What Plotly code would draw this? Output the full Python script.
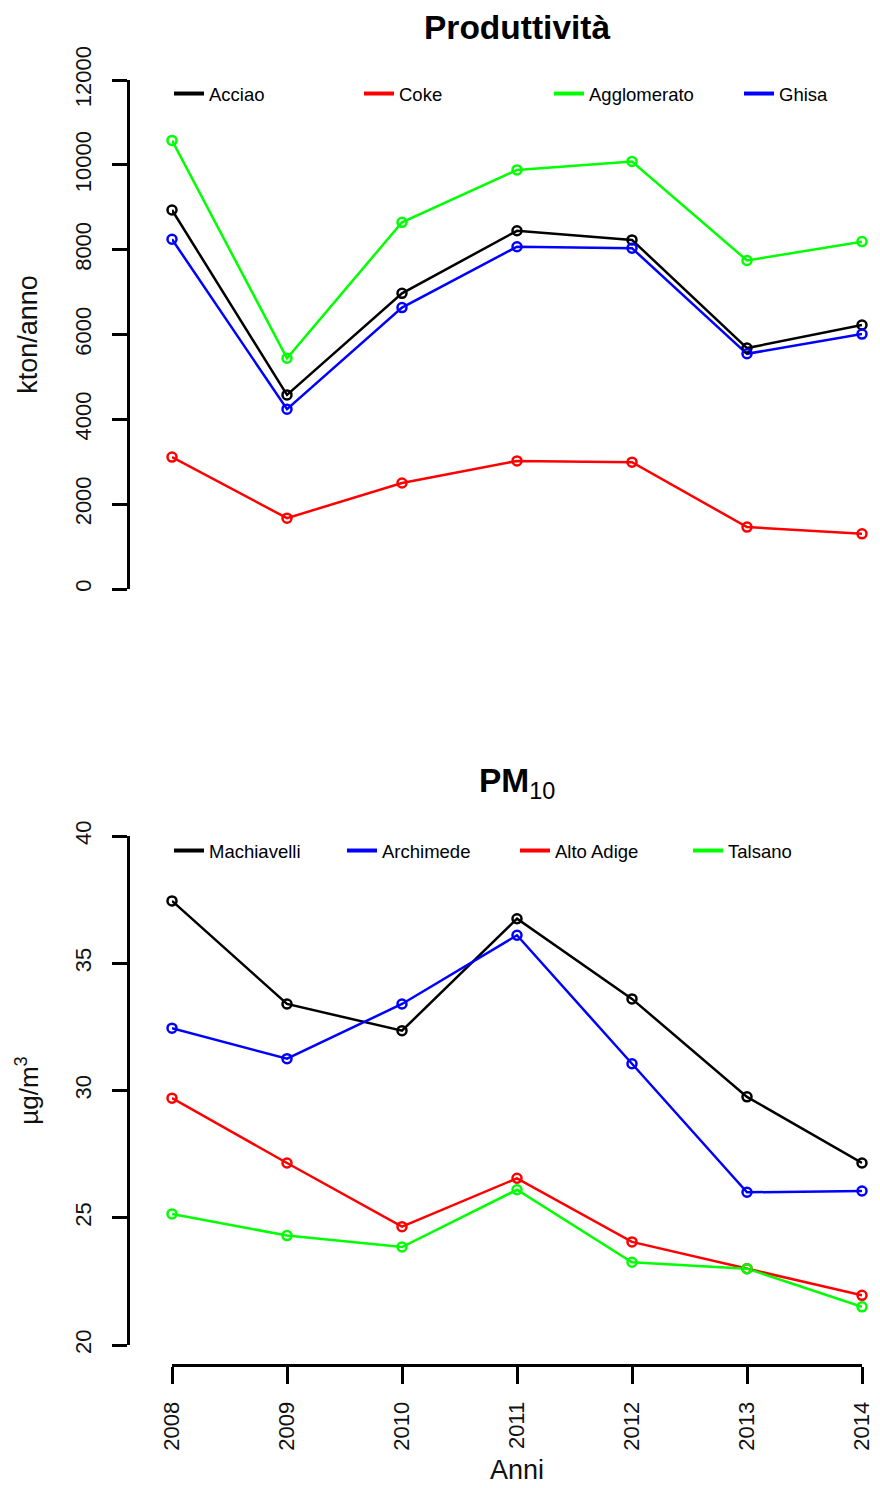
import plotly.graph_objects as go

# ---------------- data ----------------
anni = [2008, 2009, 2010, 2011, 2012, 2013, 2014]

prod_names = ["Acciao", "Coke", "Agglomerato", "Ghisa"]
acciao = [8935, 4575, 6970, 8445, 8230, 5680, 6225]
coke = [3110, 1670, 2500, 3020, 2990, 1460, 1300]
agglomerato = [10575, 5440, 8645, 9880, 10080, 7745, 8190]
ghisa = [8245, 4240, 6635, 8070, 8035, 5545, 6010]
prod_values = [acciao, coke, agglomerato, ghisa]
prod_colors = ["#000000", "#FF0000", "#00FF00", "#0000FF"]

pm_names = ["Machiavelli", "Archimede", "Alto Adige", "Talsano"]
machiavelli = [37.45, 33.4, 32.35, 36.75, 33.6, 29.75, 27.15]
archimede = [32.45, 31.25, 33.4, 36.1, 31.05, 26.0, 26.05]
alto_adige = [29.7, 27.15, 24.65, 26.55, 24.05, 23.0, 21.95]
talsano = [25.15, 24.3, 23.85, 26.1, 23.25, 23.0, 21.5]
pm_values = [machiavelli, archimede, alto_adige, talsano]
pm_colors = ["#000000", "#0000FF", "#FF0000", "#00FF00"]

prod_ticks = [0, 2000, 4000, 6000, 8000, 10000, 12000]
pm_ticks = [20, 25, 30, 35, 40]

# ---------------- layout geometry (pixels) ----------------
W, H = 880, 1488
FONT = "Liberation Sans, Arial, sans-serif"

def px_x(p):
    return p / W

def px_y(p):
    return 1 - p / H

fig = go.Figure()

def add_panel(names, values, colors, xa, ya, legend):
    # lines
    for n, v, c in zip(names, values, colors):
        fig.add_trace(go.Scatter(x=anni, y=v, mode="lines", name=n,
                                 line=dict(color=c, width=2.5),
                                 xaxis=xa, yaxis=ya, showlegend=False,
                                 cliponaxis=False, hoverinfo="skip"))
    # open circles
    for n, v, c in zip(names, values, colors):
        fig.add_trace(go.Scatter(x=anni, y=v, mode="markers", name=n,
                                 marker=dict(symbol="circle-open", size=9, color=c,
                                             line=dict(width=2.5, color=c)),
                                 xaxis=xa, yaxis=ya, showlegend=False,
                                 cliponaxis=False))
    # legend entries
    for n, c in zip(names, colors):
        fig.add_trace(go.Scatter(x=[None], y=[None], mode="lines", name=n,
                                 line=dict(color=c, width=4),
                                 xaxis=xa, yaxis=ya, showlegend=True,
                                 legend=legend))

add_panel(prod_names, prod_values, prod_colors, "x", "y", "legend")
add_panel(pm_names, pm_values, pm_colors, "x2", "y2", "legend2")

xdom = [px_x(172), px_x(862)]
axis_common = dict(showgrid=False, zeroline=False, showline=True, linecolor="black",
                   linewidth=3, ticks="outside", tickwidth=3, tickcolor="black",
                   tickangle=-90, tickformat="d",
                   tickfont=dict(family=FONT, size=22, color="#111111"))

fig.update_layout(
    width=W, height=H,
    margin=dict(l=0, r=0, t=0, b=0, autoexpand=False),
    paper_bgcolor="white", plot_bgcolor="white",
    font=dict(family=FONT, color="black"),
    xaxis=dict(domain=xdom, range=[2008, 2014], visible=False, anchor="y"),
    yaxis=dict(domain=[px_y(589), px_y(80)], range=[0, 12000], anchor="free",
               position=px_x(128), tickvals=prod_ticks, ticklen=15, ticklabelstandoff=12,
               title=dict(text="kton/anno", font=dict(family=FONT, size=27, color="#111111"),
                          standoff=24),
               **axis_common),
    xaxis2=dict(domain=xdom, range=[2008, 2014], anchor="free", position=px_y(1365),
                tickvals=anni, ticklen=17, ticklabelstandoff=9,
                title=dict(text="Anni", font=dict(family=FONT, size=27, color="#111111"),
                           standoff=10),
                **axis_common),
    yaxis2=dict(domain=[px_y(1345), px_y(836)], range=[20, 40], anchor="free",
                position=px_x(128), tickvals=pm_ticks, ticklen=15, ticklabelstandoff=12,
                title=dict(text="µg/m<sup>3</sup>", font=dict(family=FONT, size=26, color="#111111"),
                           standoff=24),
                **axis_common),
    legend=dict(orientation="h", x=px_x(169), xanchor="left", y=px_y(94), yanchor="middle",
                entrywidth=145, bgcolor="rgba(0,0,0,0)", itemwidth=30,
                font=dict(family=FONT, size=18.5, color="black"), tracegroupgap=0),
    legend2=dict(orientation="h", x=px_x(169), xanchor="left", y=px_y(851), yanchor="middle",
                 entrywidth=128, bgcolor="rgba(0,0,0,0)", itemwidth=30,
                 font=dict(family=FONT, size=18.5, color="black"), tracegroupgap=0),
    annotations=[
        dict(text="<b>Produttività</b>", xref="x domain", yref="paper", x=0.5, y=px_y(27),
             xanchor="center", yanchor="middle", showarrow=False,
             font=dict(family=FONT, size=33.5, color="black")),
        dict(text="<b>PM</b><sub>10</sub>", xref="x2 domain", yref="paper", x=0.5, y=px_y(783),
             xanchor="center", yanchor="middle", showarrow=False,
             font=dict(family=FONT, size=33.5, color="black")),
    ],
)

fig.write_html("out.html", config={"displayModeBar": False},
               post_script="document.body.style.margin='0';document.body.style.padding='0';")
